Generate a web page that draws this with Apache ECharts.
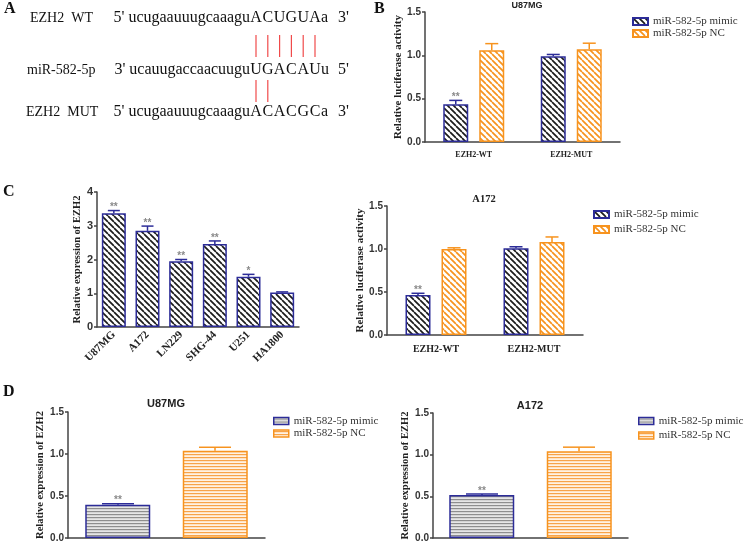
<!DOCTYPE html>
<html>
<head>
<meta charset="utf-8">
<script src="https://cdn.jsdelivr.net/npm/echarts@6/dist/echarts.min.js"></script>
<style>
  html, body { margin: 0; padding: 0; background: #fff; }
  #main { width: 747px; height: 547px; }
</style>
</head>
<body>
<div id="main"></div>
<script>
// panel A : sequences
var seqLabels = ['EZH2  WT', 'miR-582-5p', 'EZH2  MUT'];
var seqHead = ["5' ucugaauuugcaaagu", "3' ucauugaccaacuugu", "5' ucugaauuugcaaagu"];
var seqSeed = ['ACUGUA', 'UGACAU', 'ACACGC'];
var seqTail = ['a', 'u', 'a'];
var seqEnd = ["3'", "5'", "3'"];
var pairsWT = [0, 1, 2, 3, 4, 5];
var pairsMUT = [0, 1];

// panel B : U87MG luciferase
var lucCats = ['EZH2-WT', 'EZH2-MUT'];
var bMimic = [0.435, 0.99];
var bMimicErr = [0.045, 0.02];
var bNC = [1.06, 1.07];
var bNCErr = [0.075, 0.07];
var bStars = ['**', ''];

// panel C left : EZH2 in cell lines
var cellLines = ['U87MG', 'A172', 'LN229', 'SHG-44', 'U251', 'HA1800'];
var cellExpr = [3.37, 2.85, 1.95, 2.46, 1.49, 1.02];
var cellErr = [0.08, 0.14, 0.05, 0.09, 0.07, 0.02];
var cellStars = ['**', '**', '**', '**', '*', ''];

// panel C right : A172 luciferase
var aMimic = [0.465, 1.01];
var aMimicErr = [0.02, 0.016];
var aNC = [1.0, 1.08];
var aNCErr = [0.014, 0.06];
var aStars = ['**', ''];

// panel D : EZH2 expression
var dCats = [''];
var dUMimic = [0.395];
var dUMimicErr = [0.013];
var dUNC = [1.04];
var dUNCErr = [0.04];
var dAMimic = [0.515];
var dAMimicErr = [0.013];
var dANC = [1.04];
var dANCErr = [0.05];
var dStars = ['**', ''];

var yTicks15 = [0, 1.5, 0.5];
var yTicks4 = [0, 4, 1];

var BLUE = '#2c2c98';
var ORANGE = '#f7931e';
var SERIF = 'Liberation Serif';
var SANS = 'Liberation Sans';

function diag(color) {
  var s = 6;
  var c = document.createElement('canvas');
  c.width = s; c.height = s;
  var g = c.getContext('2d');
  g.fillStyle = '#fff';
  g.fillRect(0, 0, s, s);
  g.strokeStyle = color;
  g.lineWidth = 1.7;
  g.beginPath();
  for (var k = -s; k <= s; k += s) { g.moveTo(k, 0); g.lineTo(k + s, s); }
  g.stroke();
  return { image: c, repeat: 'repeat' };
}
function horiz(color, bg) {
  var c = document.createElement('canvas');
  c.width = 4; c.height = 3;
  var g = c.getContext('2d');
  g.fillStyle = bg;
  g.fillRect(0, 0, 4, 3);
  g.fillStyle = color;
  g.fillRect(0, 1, 4, 1.2);
  return { image: c, repeat: 'repeat' };
}
var patMimic = diag('#1c1c1c');
var patNC = diag(ORANGE);
var patMimicH = horiz('#8e8e8e', '#e6e6e6');
var patNCH = horiz('#f7a349', '#fff2e3');

function xAx(gi, data, font, opts) {
  var a = {
    type: 'category', gridIndex: gi, data: data,
    axisLine: { lineStyle: { color: '#444', width: 1.5 } },
    axisTick: { alignWithLabel: true, length: 4, lineStyle: { color: '#444', width: 1.5 } },
    axisLabel: { fontFamily: SERIF, fontWeight: 'bold', fontSize: font, color: '#222', margin: 9 }
  };
  if (opts) a.axisLabel = Object.assign(a.axisLabel, opts);
  return a;
}
function yAx(gi, t, name, gap, nameSize, labSize, digits) {
  return {
    type: 'value', gridIndex: gi, min: t[0], max: t[1], interval: t[2],
    name: name, nameLocation: 'middle', nameGap: gap,
    nameTextStyle: { fontFamily: SERIF, fontWeight: 'bold', fontSize: nameSize, color: '#222' },
    axisLine: { show: true, lineStyle: { color: '#444', width: 1.5 } },
    axisTick: { show: true, length: 3, lineStyle: { color: '#444', width: 1.5 } },
    axisLabel: { fontFamily: SANS, fontWeight: 'bold', fontSize: labSize, color: '#333', margin: 4,
      formatter: function (v) { return v.toFixed(digits); } },
    splitLine: { show: false }
  };
}
function bar(name, gi, data, width, gap, pat, border) {
  return {
    type: 'bar', name: name, xAxisIndex: gi, yAxisIndex: gi, data: data,
    barWidth: width, barGap: gap,
    itemStyle: { color: pat, borderColor: border, borderWidth: 1.5 }
  };
}
// error bar (upper only) with significance stars
function errBars(gi, means, errs, stars, offset, halfCap, color) {
  return {
    type: 'custom', name: 'err', xAxisIndex: gi, yAxisIndex: gi, z: 5,
    data: means.map(function (m, i) { return [i, m, errs[i]]; }),
    renderItem: function (params, api) {
      var i = api.value(0), m = api.value(1), e = api.value(2);
      var p0 = api.coord([i, m]);
      var p1 = api.coord([i, m + e]);
      var x = p0[0] + offset;
      var kids = [
        { type: 'line', shape: { x1: x, y1: p0[1], x2: x, y2: p1[1] }, style: { stroke: color, lineWidth: 1.5 } },
        { type: 'line', shape: { x1: x - halfCap, y1: p1[1], x2: x + halfCap, y2: p1[1] }, style: { stroke: color, lineWidth: 1.5 } }
      ];
      var s = stars[params.dataIndex];
      if (s) {
        kids.push({ type: 'text', style: { text: s, x: x, y: p1[1] - 3, textAlign: 'center', textVerticalAlign: 'middle',
          font: 'bold 10px "' + SANS + '"', fill: '#8a8a8a' } });
      }
      return { type: 'group', children: kids };
    }
  };
}
function legend(left, top, gap, lh, dataItems) {
  return {
    orient: 'vertical', left: left, top: top, padding: 0, icon: 'rect', itemWidth: 15, itemHeight: 7,
    itemGap: gap, selectedMode: false,
    textStyle: { fontFamily: SERIF, fontSize: 11, color: '#333', lineHeight: lh },
    data: dataItems
  };
}

var graphic = [];
function txt(s, x, y, font, align, fill) {
  graphic.push({ type: 'text', silent: true, style: { text: s, x: x, y: y, font: font, textAlign: align || 'left',
    textVerticalAlign: 'middle', fill: fill || '#111' } });
}
// panel letters
txt('A', 4, 9, 'bold 16px "' + SERIF + '"');
txt('B', 374, 9, 'bold 16px "' + SERIF + '"');
txt('C', 3, 192, 'bold 16px "' + SERIF + '"');
txt('D', 3, 392, 'bold 16px "' + SERIF + '"');
// titles
txt('U87MG', 527, 6, 'bold 9px "' + SANS + '"', 'center', '#222');
txt('A172', 484, 199, 'bold 10.5px "' + SERIF + '"', 'center', '#222');
txt('U87MG', 166, 404, 'bold 11px "' + SANS + '"', 'center', '#222');
txt('A172', 530, 406, 'bold 11px "' + SANS + '"', 'center', '#222');

// panel A sequences
var rowY = [18, 70, 112];
var labelX = [30, 27, 26];
var seedX0 = 256, seedStep = 11.8;
seqLabels.forEach(function (lab, r) {
  txt(lab, labelX[r], rowY[r], '14px "' + SERIF + '"');
  txt(seqHead[r], seedX0 - seedStep / 2, rowY[r], '16px "' + SERIF + '"', 'right');
  seqSeed[r].split('').forEach(function (ch, k) {
    txt(ch, seedX0 + k * seedStep, rowY[r], '16px "' + SERIF + '"', 'center');
  });
  var endSeed = seedX0 + (seqSeed[r].length - 0.5) * seedStep;
  txt(seqTail[r], endSeed, rowY[r], '16px "' + SERIF + '"');
  txt(seqEnd[r], endSeed + 17, rowY[r], '16px "' + SERIF + '"');
});
function pairLines(idx, y1, y2) {
  idx.forEach(function (k) {
    var x = seedX0 + k * seedStep;
    graphic.push({ type: 'line', silent: true, shape: { x1: x, y1: y1, x2: x, y2: y2 },
      style: { stroke: '#f04a4a', lineWidth: 1.2 } });
  });
}
pairLines(pairsWT, 35, 57);
pairLines(pairsMUT, 80, 102);

var chart = echarts.init(document.getElementById('main'));
chart.setOption({
  animation: false,
  backgroundColor: '#fff',
  grid: [
    { left: 425, top: 12, width: 195, height: 130 },
    { left: 97, top: 192, width: 202, height: 135 },
    { left: 387, top: 206, width: 196, height: 129 },
    { left: 68, top: 412, width: 197, height: 130 },
    { left: 433, top: 413, width: 195, height: 129 }
  ],
  xAxis: [
    xAx(0, lucCats, 8),
    xAx(1, cellLines, 11, { rotate: 45, margin: 6 }),
    xAx(2, lucCats, 10),
    xAx(3, dCats, 10),
    xAx(4, dCats, 10)
  ],
  yAxis: [
    yAx(0, yTicks15, 'Relative luciferase activity', 17.5, 11, 10, 1),
    yAx(1, yTicks4, 'Relative expression of EZH2', 13.5, 10.5, 11, 0),
    yAx(2, yTicks15, 'Relative luciferase activity', 20.5, 11, 10, 1),
    yAx(3, yTicks15, 'Relative expression of EZH2', 15.5, 10.5, 10, 1),
    yAx(4, yTicks15, 'Relative expression of EZH2', 17.5, 10.5, 10, 1)
  ],
  legend: [
    legend(632, 16, 1, 11, ['miR-582-5p mimic', 'miR-582-5p NC']),
    legend(593, 208.5, 3, 12, ['miR-582-5p mimic', 'miR-582-5p NC']),
    legend(273, 415.5, 1.5, 11, [
      { name: 'miR-582-5p mimic', itemStyle: { color: patMimicH, borderColor: BLUE, borderWidth: 1.5 } },
      { name: 'miR-582-5p NC', itemStyle: { color: patNCH, borderColor: ORANGE, borderWidth: 1.5 } }
    ]),
    legend(638, 415, 2.5, 12, [
      { name: 'miR-582-5p mimic', itemStyle: { color: patMimicH, borderColor: BLUE, borderWidth: 1.5 } },
      { name: 'miR-582-5p NC', itemStyle: { color: patNCH, borderColor: ORANGE, borderWidth: 1.5 } }
    ])
  ],
  series: [
    bar('miR-582-5p mimic', 0, bMimic, 25, '44%', patMimic, BLUE),
    bar('miR-582-5p NC', 0, bNC, 25, '44%', patNC, ORANGE),
    errBars(0, bMimic, bMimicErr, bStars, -18, 6.5, BLUE),
    errBars(0, bNC, bNCErr, ['', ''], 18, 6.5, ORANGE),

    bar('EZH2', 1, cellExpr, 24, '0%', patMimic, BLUE),
    errBars(1, cellExpr, cellErr, cellStars, 0, 6, BLUE),

    bar('miR-582-5p mimic', 2, aMimic, 25, '44%', patMimic, BLUE),
    bar('miR-582-5p NC', 2, aNC, 25, '44%', patNC, ORANGE),
    errBars(2, aMimic, aMimicErr, aStars, -18, 6.5, BLUE),
    errBars(2, aNC, aNCErr, ['', ''], 18, 6.5, ORANGE),

    bar('miR-582-5p mimic', 3, dUMimic, 65, '50%', patMimicH, BLUE),
    bar('miR-582-5p NC', 3, dUNC, 65, '50%', patNCH, ORANGE),
    errBars(3, dUMimic, dUMimicErr, dStars, -48.5, 16, BLUE),
    errBars(3, dUNC, dUNCErr, [''], 48.5, 16, ORANGE),

    bar('miR-582-5p mimic', 4, dAMimic, 65, '50%', patMimicH, BLUE),
    bar('miR-582-5p NC', 4, dANC, 65, '50%', patNCH, ORANGE),
    errBars(4, dAMimic, dAMimicErr, dStars, -48.5, 16, BLUE),
    errBars(4, dANC, dANCErr, [''], 48.5, 16, ORANGE)
  ],
  graphic: graphic
});
</script>
</body>
</html>
